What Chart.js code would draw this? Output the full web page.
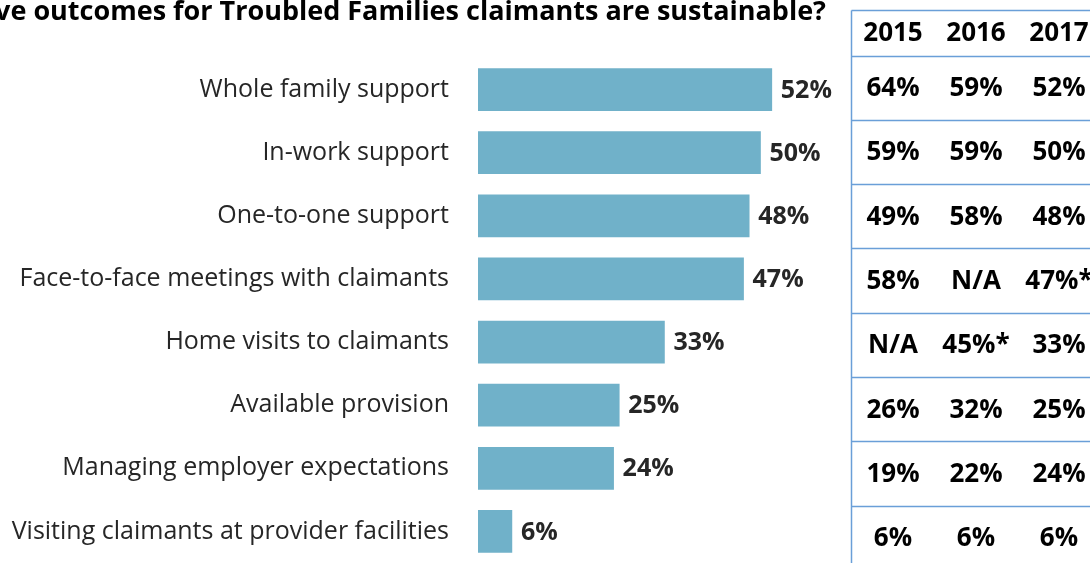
<!DOCTYPE html>
<html>
<head>
<meta charset="utf-8">
<script src="https://cdn.jsdelivr.net/npm/chart.js@4"></script>
<style>
  html, body { margin: 0; padding: 0; background: #fff; overflow: hidden; }
  canvas { display: block; }
</style>
</head>
<body>
<canvas id="chart" width="1090" height="563"></canvas>
<script>
// categories and 2017 values (bars)
const categories = [
  "Whole family support",
  "In-work support",
  "One-to-one support",
  "Face-to-face meetings with claimants",
  "Home visits to claimants",
  "Available provision",
  "Managing employer expectations",
  "Visiting claimants at provider facilities",
];
const values2017 = [52, 50, 48, 47, 33, 25, 24, 6];

// year-on-year comparison table
const tableYears = ["2015", "2016", "2017"];
const col2015 = ["64%", "59%", "49%", "58%", "N/A", "26%", "19%", "6%"];
const col2016 = ["59%", "59%", "58%", "N/A", "45%*", "32%", "22%", "6%"];
const col2017 = ["52%", "50%", "48%", "47%*", "33%", "25%", "24%", "6%"];

const titleText = "ve outcomes for Troubled Families claimants are sustainable?";

const barColor = "#70b1c9";
const lineColor = "#6a9fd8";

// value labels at the end of each bar
const barLabels = {
  id: "barLabels",
  afterDatasetsDraw(chart) {
    const ctx = chart.ctx;
    const meta = chart.getDatasetMeta(0);
    ctx.save();
    ctx.font = "bold 25px 'Open Sans'";
    ctx.fillStyle = "#262626";
    ctx.textAlign = "left";
    ctx.textBaseline = "middle";
    meta.data.forEach((bar, i) => {
      ctx.fillText(values2017[i] + "%", bar.x + 9, bar.y + 1);
    });
    ctx.restore();
  },
};

// title and the comparison table on the right
const extras = {
  id: "extras",
  afterDraw(chart) {
    const ctx = chart.ctx;
    ctx.save();
    ctx.font = "bold 27px 'Open Sans'";
    ctx.fillStyle = "#000";
    ctx.textAlign = "right";
    ctx.textBaseline = "alphabetic";
    ctx.fillText(titleText, 826, 20);

    const left = 851.5;
    const right = chart.width;
    const top = 10.5;
    const headBottom = 55.5;
    const rowH = 64.3;
    const colX = [893, 976, 1059];
    const cols = [col2015, col2016, col2017];

    ctx.strokeStyle = lineColor;
    ctx.lineWidth = 1.5;
    ctx.beginPath();
    ctx.moveTo(left, top);
    ctx.lineTo(left, chart.height);
    ctx.moveTo(left, top);
    ctx.lineTo(right, top);
    for (let i = 0; i < categories.length; i++) {
      const y = Math.round(headBottom + rowH * i) + 0.5;
      ctx.moveTo(left, y);
      ctx.lineTo(right, y);
    }
    ctx.stroke();

    ctx.fillStyle = "#000";
    ctx.textAlign = "center";
    ctx.textBaseline = "middle";
    ctx.font = "bold 26px 'Open Sans'";
    tableYears.forEach((yr, j) => {
      ctx.fillText(yr, colX[j], (top + headBottom) / 2 + 1);
    });
    cols.forEach((col, j) => {
      col.forEach((txt, i) => {
        ctx.fillText(txt, colX[j], headBottom + rowH * i + rowH / 2 + 1);
      });
    });
    ctx.restore();
  },
};

new Chart(document.getElementById("chart"), {
  type: "bar",
  data: {
    labels: categories,
    datasets: [
      {
        data: values2017,
        backgroundColor: barColor,
        borderWidth: 0,
        barThickness: 42,
      },
    ],
  },
  options: {
    indexAxis: "y",
    responsive: false,
    animation: false,
    layout: { padding: { top: 58, bottom: 0, left: 0, right: 273 } },
    plugins: {
      legend: { display: false },
      tooltip: { enabled: false },
    },
    scales: {
      x: {
        display: false,
        min: 0,
        max: 60,
      },
      y: {
        afterFit(scale) {
          // fixed label column, no extra room above/below the bars
          scale.width = 478;
          scale.paddingTop = 0;
          scale.paddingBottom = 0;
        },
        grid: { display: false, drawTicks: false },
        border: { display: false },
        ticks: {
          padding: 29,
          color: "#262626",
          font: { family: "'Open Sans'", size: 25 },
        },
      },
    },
  },
  plugins: [barLabels, extras],
});
</script>
</body>
</html>
